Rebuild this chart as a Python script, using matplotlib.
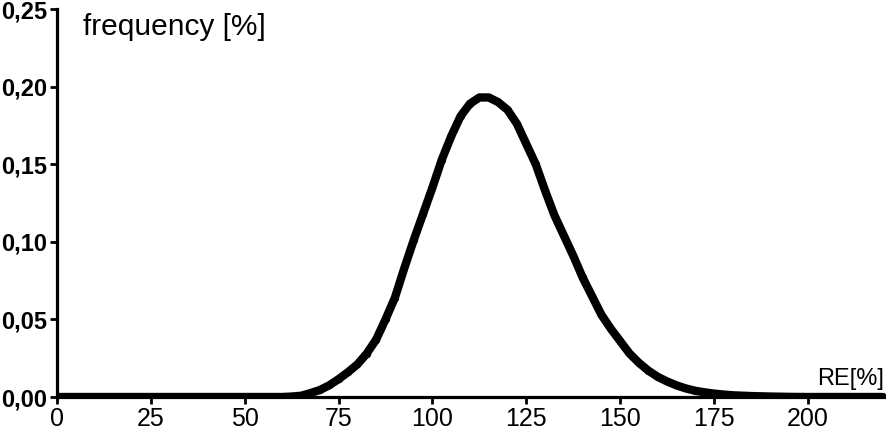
import matplotlib
matplotlib.use("Agg")
import matplotlib.pyplot as plt

plt.rcParams['font.family'] = ['Liberation Sans', 'DejaVu Sans']

# RE [%] and frequency [%]
re_vals = [0, 20, 40, 55, 60, 62.5, 65, 67.5, 70, 72.5, 75, 77.5, 80, 82.5, 85, 87.5,
           90, 92.5, 95, 97.5, 100, 102.5, 105, 107.5, 110, 112.5, 115, 117.5,
           120, 122.5, 125, 127.5, 130, 132.5, 135, 137.5, 140, 142.5, 145, 147.5,
           150, 152.5, 155, 157.5, 160, 162.5, 165, 167.5, 170, 172.5, 175, 177.5,
           180, 185, 190, 195, 200, 210, 220]
freq = [0.0, 0.0, 0.0, 0.0, 0.0, 0.0003, 0.0008, 0.0025, 0.0045, 0.0075, 0.0115,
        0.016, 0.021, 0.028, 0.037, 0.050, 0.064, 0.083, 0.101, 0.118, 0.135,
        0.153, 0.168, 0.181, 0.189, 0.193, 0.193, 0.190, 0.185, 0.176, 0.163,
        0.150, 0.133, 0.117, 0.104, 0.091, 0.077, 0.065, 0.053, 0.044, 0.036,
        0.028, 0.022, 0.017, 0.013, 0.010, 0.0075, 0.0055, 0.004, 0.003, 0.0022,
        0.0016, 0.0011, 0.0006, 0.0003, 0.0001, 0.0, 0.0, 0.0]

x_ticks = [0, 25, 50, 75, 100, 125, 150, 175, 200]
y_ticks = [0.00, 0.05, 0.10, 0.15, 0.20, 0.25]
y_labels = ['0,00', '0,05', '0,10', '0,15', '0,20', '0,25']

fig = plt.figure(figsize=(8.86, 4.32), dpi=100)
ax = fig.add_axes([57 / 886, 35 / 432, 829 / 886, 388 / 432])

# thick band of dots
ax.plot(re_vals, freq, color='black', lw=6, solid_capstyle='round', zorder=3)
ax.scatter(re_vals, freq, s=18, color='black', zorder=4)

ax.set_xlim(0, 220.8)
ax.set_ylim(0, 0.25)
ax.set_xticks(x_ticks)
ax.set_yticks(y_ticks)
ax.set_yticklabels(y_labels)

for s in ['top', 'right']:
    ax.spines[s].set_visible(False)
for s in ['left', 'bottom']:
    ax.spines[s].set_linewidth(2.3)
ax.tick_params(axis='both', length=5, width=2, colors='black')
ax.tick_params(axis='x', labelsize=18, pad=2)
ax.tick_params(axis='y', labelsize=17, pad=2)
for lab in ax.get_yticklabels():
    lab.set_fontweight('bold')

ax.text(0.031, 0.99, 'frequency [%]', transform=ax.transAxes, fontsize=21.5,
        va='top', ha='left')
ax.text(0.997, 0.018, 'RE[%]', transform=ax.transAxes, fontsize=17,
        va='bottom', ha='right')

fig.savefig('out.png', dpi=100)
